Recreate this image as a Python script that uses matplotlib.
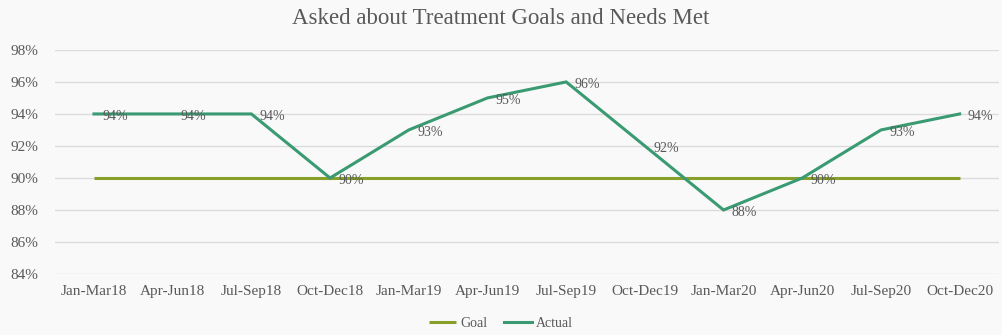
import matplotlib
matplotlib.use("Agg")
import matplotlib.pyplot as plt

categories = ["Jan-Mar18", "Apr-Jun18", "Jul-Sep18", "Oct-Dec18", "Jan-Mar19", "Apr-Jun19",
              "Jul-Sep19", "Oct-Dec19", "Jan-Mar20", "Apr-Jun20", "Jul-Sep20", "Oct-Dec20"]
goal = [90] * 12
actual = [94, 94, 94, 90, 93, 95, 96, 92, 88, 90, 93, 94]
yticks = [84, 86, 88, 90, 92, 94, 96, 98]

plt.rcParams['font.family'] = ['Liberation Serif', 'DejaVu Serif']
bg = "#f9f9f9"
txt = "#595959"
fig = plt.figure(figsize=(10.02, 3.35), dpi=100, facecolor=bg)
ax = fig.add_axes([0.0545, 0.182, 0.9425, 0.669], facecolor=bg)

x = list(range(len(categories)))
ax.plot(x, goal, color="#86a02a", lw=2.2, label="Goal", solid_capstyle="butt")
ax.plot(x, actual, color="#3a9a72", lw=2.2, label="Actual", solid_joinstyle="miter")

for xi, v in zip(x, actual):
    ax.annotate(f"{v}%", (xi, v), xytext=(6, -2), textcoords="offset points",
                ha="left", va="center", fontsize=10, color=txt)

ax.set_xlim(-0.5, len(categories) - 0.5)
ax.set_ylim(84, 98)
ax.set_yticks(yticks)
ax.set_yticklabels([f"{t}%" for t in yticks])
ax.set_xticks(x)
ax.set_xticklabels(categories)
ax.tick_params(length=0, labelsize=11, colors=txt)
ax.tick_params(axis="x", pad=8)
ax.tick_params(axis="y", pad=12)
ax.grid(axis="y", color="#dcdcdc", lw=1)
ax.set_axisbelow(True)
for s in ax.spines.values():
    s.set_visible(False)

fig.text(0.5, 0.945, "Asked about Treatment Goals and Needs Met", ha="center", va="center",
         fontsize=16.5, color=txt)
fig.legend(loc="center", bbox_to_anchor=(0.5, 0.035), ncol=2, frameon=False, fontsize=10,
           handlelength=2, handletextpad=0.3, columnspacing=1.2, labelcolor=txt)

fig.savefig("out.png", dpi=100, facecolor=bg)
